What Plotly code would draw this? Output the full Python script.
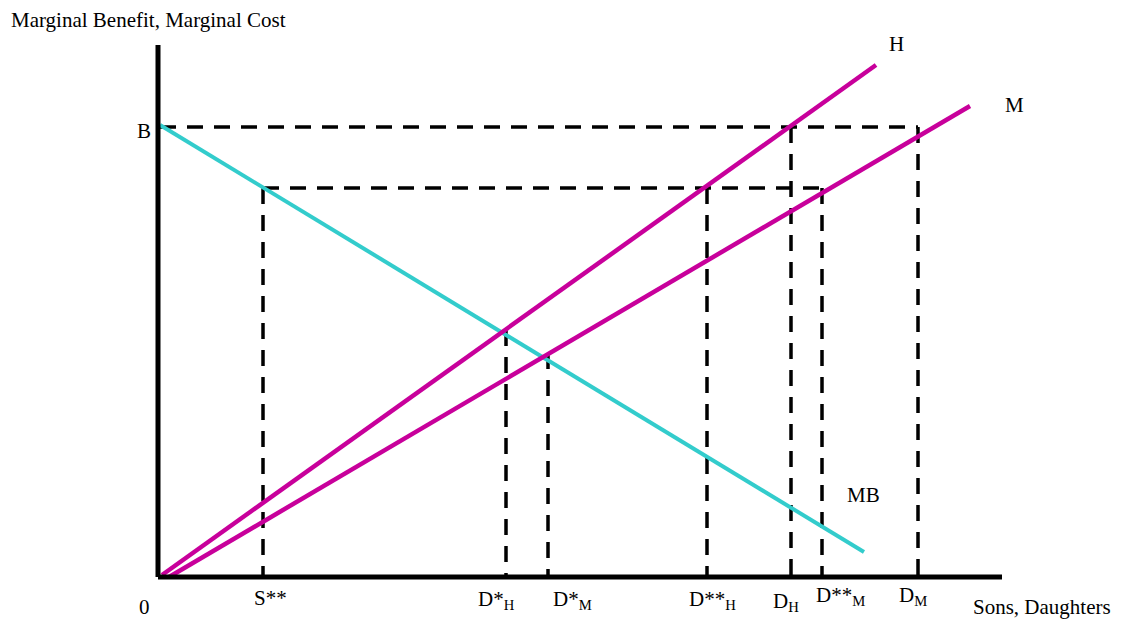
import plotly.graph_objects as go

# Quantities run along x, marginal benefit / cost along y (origin at 0, 0).
x_axis_end = 844
y_axis_top = 532

# Benefit level B and the lower reference level used for S**.
b_level = 450
low_level = 389

# Curve end points (x, y).
mb_x = [2, 706]
mb_y = [452, 25]
h_x = [4, 718]
h_y = [2, 512]
m_x = [11, 812]
m_y = [0, 471]

# Vertical drop lines: where each stops at the top, and its label.
drop_labels = ["S**", "D*<sub>H</sub>", "D*<sub>M</sub>", "D**<sub>H</sub>",
               "D<sub>H</sub>", "D**<sub>M</sub>", "D<sub>M</sub>"]
drop_x = [105, 348, 390, 549, 633, 664, 760]
drop_top = [389, 247, 224, 389, 450, 389, 450]
label_left = [94, 318, 393, 529, 613, 656, 739]
label_y = [-21, -23, -23, -23, -25, -19, -19]

# Horizontal dashed guides: (level, start x, end x).
guide_levels = [b_level, low_level]
guide_start = [2, 105]
guide_end = [760, 664]

MAGENTA = "#C8009B"
CYAN = "#33CCCC"
FONT = dict(family="Liberation Serif, Times New Roman, serif", size=21, color="black")
DASH = "16px,11px"

fig = go.Figure()

for lvl, x0, x1 in zip(guide_levels, guide_start, guide_end):
    fig.add_trace(go.Scatter(x=[x0, x1], y=[lvl, lvl], mode="lines",
                             line=dict(color="black", width=3.5, dash=DASH)))

for x, top in zip(drop_x, drop_top):
    fig.add_trace(go.Scatter(x=[x, x], y=[top, 0], mode="lines",
                             line=dict(color="black", width=3.5, dash=DASH)))

fig.add_trace(go.Scatter(x=mb_x, y=mb_y, mode="lines", line=dict(color=CYAN, width=4)))
fig.add_trace(go.Scatter(x=h_x, y=h_y, mode="lines", line=dict(color=MAGENTA, width=4.5)))
fig.add_trace(go.Scatter(x=m_x, y=m_y, mode="lines", line=dict(color=MAGENTA, width=4.5)))

# Axes
fig.add_trace(go.Scatter(x=[0, 0], y=[y_axis_top, 0], mode="lines",
                         line=dict(color="black", width=5)))
fig.add_trace(go.Scatter(x=[0, x_axis_end], y=[0, 0], mode="lines",
                         line=dict(color="black", width=5)))

annotations = []


def label(text, x, y, anchor="left"):
    annotations.append(dict(text=text, x=x, y=y, xref="x", yref="y",
                            xanchor=anchor, yanchor="middle", showarrow=False,
                            font=FONT))


label("Marginal Benefit, Marginal Cost", -149, 557)
label("B", -23, 446)
label("0", -21, -30)
label("H", 729, 533)
label("M", 845, 472)
label("MB", 687, 82)
label("Sons, Daughters", 813, -30)
for text, x, y in zip(drop_labels, label_left, label_y):
    label(text, x, y)

fig.update_layout(
    width=1124, height=626,
    margin=dict(l=0, r=0, t=0, b=0),
    paper_bgcolor="white", plot_bgcolor="white",
    showlegend=False, hovermode=False,
    xaxis=dict(visible=False, range=[-158, 966]),
    yaxis=dict(visible=False, range=[-49, 577]),
    annotations=annotations,
)

fig.write_html("out.html")
